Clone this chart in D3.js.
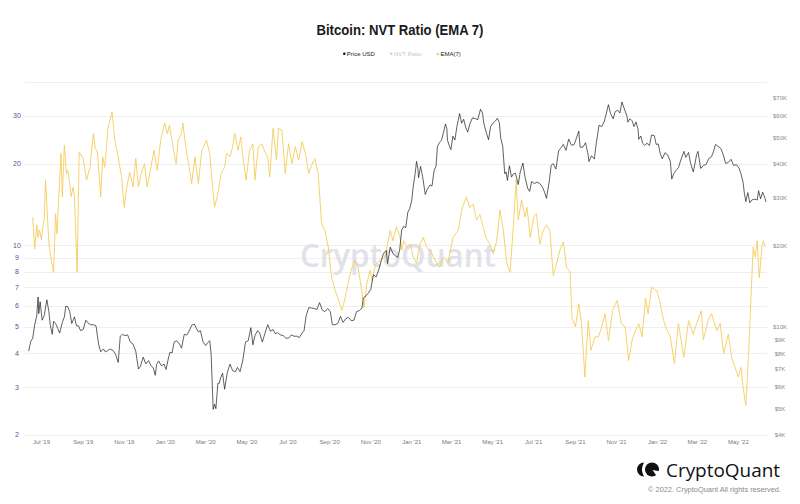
<!DOCTYPE html>
<html><head><meta charset="utf-8">
<script src="https://cdn.jsdelivr.net/npm/d3@7"></script>
<style>html,body{margin:0;padding:0;background:#fff;}svg{display:block;font-family:"Liberation Sans",Arial,sans-serif;}</style>
</head><body>
<svg id="c" width="800" height="504"></svg>
<script>
// ---------- DATA ----------
const titleText = "Bitcoin: NVT Ratio (EMA 7)";
const legendLabels = ["Price USD", "NVT Ratio", "EMA(7)"];
const leftTicks = [2,3,4,5,6,7,8,9,10,20,30,40];
const leftTickLabels = ["2","3","4","5","6","7","8","9","10","20","30",""];
const rightTicks = [4000,5000,6000,7000,8000,9000,10000,20000,30000,40000,50000,60000,70000];
const rightTickLabels = ["$4K","$5K","$6K","$7K","$8K","$9K","$10K","$20K","$30K","$40K","$50K","$60K","$70K"];
const xTickDates = ["2019-07-01","2019-09-01","2019-11-01","2020-01-01","2020-03-01","2020-05-01","2020-07-01","2020-09-01","2020-11-01","2021-01-01","2021-03-01","2021-05-01","2021-07-01","2021-09-01","2021-11-01","2022-01-01","2022-03-01","2022-05-01"];
const xTickLabels = ["Jul '19","Sep '19","Nov '19","Jan '20","Mar '20","May '20","Jul '20","Sep '20","Nov '20","Jan '21","Mar '21","May '21","Jul '21","Sep '21","Nov '21","Jan '22","Mar '22","May '22"];

const priceDates = ["2019-06-12","2019-06-15","2019-06-18","2019-06-21","2019-06-24","2019-06-26","2019-06-27","2019-06-29","2019-07-02","2019-07-05","2019-07-09","2019-07-12","2019-07-14","2019-07-17","2019-07-19","2019-07-22","2019-07-25","2019-07-28","2019-08-01","2019-08-04","2019-08-06","2019-08-09","2019-08-12","2019-08-15","2019-08-19","2019-08-22","2019-08-25","2019-08-28","2019-09-01","2019-09-05","2019-09-09","2019-09-12","2019-09-16","2019-09-20","2019-09-24","2019-09-27","2019-10-01","2019-10-04","2019-10-08","2019-10-11","2019-10-15","2019-10-19","2019-10-23","2019-10-26","2019-10-29","2019-11-02","2019-11-06","2019-11-10","2019-11-14","2019-11-18","2019-11-22","2019-11-25","2019-11-29","2019-12-03","2019-12-07","2019-12-11","2019-12-14","2019-12-17","2019-12-19","2019-12-22","2019-12-26","2019-12-30","2020-01-02","2020-01-06","2020-01-08","2020-01-11","2020-01-14","2020-01-18","2020-01-22","2020-01-25","2020-01-29","2020-02-02","2020-02-06","2020-02-09","2020-02-13","2020-02-16","2020-02-19","2020-02-22","2020-02-26","2020-03-01","2020-03-04","2020-03-07","2020-03-09","2020-03-12","2020-03-14","2020-03-16","2020-03-19","2020-03-21","2020-03-23","2020-03-26","2020-03-29","2020-04-02","2020-04-06","2020-04-10","2020-04-14","2020-04-17","2020-04-21","2020-04-25","2020-04-29","2020-05-03","2020-05-07","2020-05-10","2020-05-13","2020-05-17","2020-05-20","2020-05-24","2020-05-28","2020-06-01","2020-06-05","2020-06-09","2020-06-12","2020-06-16","2020-06-20","2020-06-24","2020-06-28","2020-07-02","2020-07-06","2020-07-10","2020-07-14","2020-07-18","2020-07-22","2020-07-25","2020-07-28","2020-08-01","2020-08-05","2020-08-09","2020-08-13","2020-08-17","2020-08-21","2020-08-25","2020-08-29","2020-09-02","2020-09-05","2020-09-09","2020-09-13","2020-09-17","2020-09-21","2020-09-25","2020-09-29","2020-10-03","2020-10-07","2020-10-11","2020-10-15","2020-10-19","2020-10-21","2020-10-25","2020-10-28","2020-11-01","2020-11-05","2020-11-09","2020-11-13","2020-11-17","2020-11-20","2020-11-24","2020-11-26","2020-11-30","2020-12-04","2020-12-08","2020-12-11","2020-12-14","2020-12-17","2020-12-20","2020-12-23","2020-12-26","2020-12-29","2021-01-01","2021-01-03","2021-01-06","2021-01-08","2021-01-10","2021-01-11","2021-01-14","2021-01-17","2021-01-21","2021-01-24","2021-01-28","2021-01-31","2021-02-03","2021-02-06","2021-02-08","2021-02-11","2021-02-14","2021-02-17","2021-02-20","2021-02-22","2021-02-23","2021-02-26","2021-02-28","2021-03-03","2021-03-06","2021-03-09","2021-03-13","2021-03-16","2021-03-19","2021-03-22","2021-03-25","2021-03-28","2021-04-01","2021-04-05","2021-04-09","2021-04-13","2021-04-16","2021-04-18","2021-04-22","2021-04-25","2021-04-28","2021-05-02","2021-05-05","2021-05-08","2021-05-11","2021-05-13","2021-05-16","2021-05-19","2021-05-21","2021-05-23","2021-05-26","2021-05-29","2021-06-01","2021-06-04","2021-06-08","2021-06-11","2021-06-15","2021-06-18","2021-06-22","2021-06-25","2021-06-28","2021-07-02","2021-07-06","2021-07-10","2021-07-14","2021-07-17","2021-07-20","2021-07-24","2021-07-27","2021-07-30","2021-08-03","2021-08-07","2021-08-10","2021-08-14","2021-08-18","2021-08-22","2021-08-26","2021-08-30","2021-09-02","2021-09-06","2021-09-08","2021-09-12","2021-09-16","2021-09-20","2021-09-21","2021-09-25","2021-09-29","2021-10-02","2021-10-06","2021-10-10","2021-10-14","2021-10-17","2021-10-20","2021-10-23","2021-10-27","2021-10-30","2021-11-03","2021-11-06","2021-11-09","2021-11-12","2021-11-16","2021-11-18","2021-11-21","2021-11-24","2021-11-27","2021-11-30","2021-12-03","2021-12-04","2021-12-07","2021-12-10","2021-12-13","2021-12-16","2021-12-20","2021-12-23","2021-12-27","2021-12-30","2022-01-02","2022-01-05","2022-01-08","2022-01-12","2022-01-16","2022-01-20","2022-01-22","2022-01-25","2022-01-28","2022-02-01","2022-02-05","2022-02-09","2022-02-12","2022-02-16","2022-02-19","2022-02-23","2022-02-24","2022-02-28","2022-03-02","2022-03-06","2022-03-10","2022-03-14","2022-03-18","2022-03-22","2022-03-25","2022-03-28","2022-04-01","2022-04-05","2022-04-09","2022-04-12","2022-04-16","2022-04-20","2022-04-24","2022-04-28","2022-05-02","2022-05-05","2022-05-08","2022-05-10","2022-05-12","2022-05-15","2022-05-18","2022-05-21","2022-05-25","2022-05-29","2022-05-31","2022-06-03","2022-06-06","2022-06-09","2022-06-11"];
const priceValues = [8150,8830,9090,10200,11000,12900,11200,12400,10600,11000,12600,11400,10200,9400,10500,10300,9900,9500,10400,10900,11900,11900,11400,10300,10900,10100,10100,9700,9800,10600,10300,10200,10200,10100,8600,8100,8300,8100,8200,8300,8200,7950,7400,9250,9400,9300,9350,8800,8650,8150,7000,7150,7750,7320,7520,7200,7070,6640,7290,7500,7200,7300,6980,7770,8080,8020,8800,8900,8650,8360,9390,9350,9750,10150,10250,9900,9600,9700,8800,8550,8760,8900,7900,4970,5200,5000,6200,6200,6490,6760,5900,6800,7300,6900,6850,7100,6850,7550,8800,8900,9950,8600,9300,9700,9500,8800,9500,10200,9650,9780,9460,9520,9350,9300,9100,9100,9350,9250,9250,9150,9500,9700,11000,11800,11750,11700,11600,12300,11550,11400,11700,11400,10200,10200,10300,10950,10400,10750,10850,10550,10600,11400,11500,11750,12800,13030,13300,13750,15600,15300,16300,17700,18700,19150,17150,19700,18650,18300,18050,19250,22800,23500,23250,26450,27350,29400,32800,36800,40800,38400,35500,39100,35900,30800,32200,33400,33100,37600,39200,46200,47900,48700,52100,56000,54000,48800,46300,45100,50500,48900,54900,61200,56400,58300,54500,52300,55900,59000,58700,58100,63500,61400,56200,51700,49000,54800,56600,57400,58800,56700,49700,46400,36700,37300,34700,39300,35700,36700,36900,33500,37300,40200,35800,32500,31600,34400,33800,34200,33800,32800,31500,29800,34300,39500,40000,38200,44600,45600,47100,44800,49300,46800,47000,49300,52700,46000,46000,47800,43000,40700,42800,41600,47700,55400,54800,57400,61500,66000,61300,58500,62200,62900,61500,67500,64300,60400,56900,58600,57600,54800,57000,53600,49200,50600,47500,46700,47600,46700,51000,50800,47100,47300,43500,41700,43900,43100,40700,35100,36700,37700,38700,41600,44400,42200,44000,40100,37300,38300,43200,44400,38400,39400,39700,41800,42400,44300,47100,46300,45500,42800,40100,40400,41500,39400,39700,38500,36600,34100,31000,29000,31300,28700,29400,29600,29400,31800,29700,31400,30100,28900];

const emaDates = ["2019-06-18","2019-06-21","2019-06-24","2019-06-26","2019-06-28","2019-07-01","2019-07-03","2019-07-05","2019-07-07","2019-07-12","2019-07-15","2019-07-19","2019-07-22","2019-07-24","2019-07-30","2019-08-01","2019-08-04","2019-08-07","2019-08-09","2019-08-12","2019-08-14","2019-08-17","2019-08-19","2019-08-23","2019-08-26","2019-09-01","2019-09-06","2019-09-11","2019-09-16","2019-09-19","2019-09-22","2019-09-27","2019-09-30","2019-10-03","2019-10-08","2019-10-14","2019-10-18","2019-10-23","2019-10-28","2019-11-01","2019-11-04","2019-11-09","2019-11-14","2019-11-18","2019-11-22","2019-11-26","2019-12-01","2019-12-05","2019-12-08","2019-12-15","2019-12-20","2019-12-25","2019-12-31","2020-01-04","2020-01-07","2020-01-12","2020-01-17","2020-01-20","2020-01-25","2020-01-27","2020-02-01","2020-02-06","2020-02-09","2020-02-14","2020-02-19","2020-02-24","2020-03-02","2020-03-07","2020-03-09","2020-03-14","2020-03-18","2020-03-24","2020-03-29","2020-04-01","2020-04-06","2020-04-10","2020-04-13","2020-04-18","2020-04-22","2020-04-25","2020-04-30","2020-05-05","2020-05-10","2020-05-13","2020-05-18","2020-05-23","2020-05-28","2020-06-01","2020-06-04","2020-06-09","2020-06-14","2020-06-17","2020-06-22","2020-06-27","2020-07-02","2020-07-07","2020-07-12","2020-07-17","2020-07-22","2020-07-27","2020-08-01","2020-08-05","2020-08-10","2020-08-15","2020-08-20","2020-08-25","2020-08-30","2020-09-04","2020-09-09","2020-09-16","2020-09-19","2020-09-24","2020-09-29","2020-10-03","2020-10-08","2020-10-13","2020-10-18","2020-10-22","2020-10-26","2020-10-31","2020-11-03","2020-11-08","2020-11-15","2020-11-22","2020-11-30","2020-12-04","2020-12-09","2020-12-14","2020-12-17","2020-12-20","2020-12-25","2020-12-30","2021-01-03","2021-01-08","2021-01-13","2021-01-18","2021-01-23","2021-01-28","2021-02-05","2021-02-11","2021-02-17","2021-02-24","2021-03-03","2021-03-11","2021-03-16","2021-03-23","2021-03-28","2021-04-02","2021-04-07","2021-04-12","2021-04-17","2021-04-21","2021-04-27","2021-05-02","2021-05-07","2021-05-12","2021-05-17","2021-05-22","2021-05-27","2021-06-01","2021-06-05","2021-06-08","2021-06-13","2021-06-18","2021-06-21","2021-06-26","2021-07-01","2021-07-05","2021-07-10","2021-07-15","2021-07-20","2021-07-25","2021-07-30","2021-08-04","2021-08-09","2021-08-14","2021-08-19","2021-08-24","2021-08-27","2021-09-01","2021-09-06","2021-09-10","2021-09-15","2021-09-20","2021-09-24","2021-09-30","2021-10-05","2021-10-10","2021-10-15","2021-10-20","2021-10-26","2021-11-02","2021-11-08","2021-11-14","2021-11-19","2021-11-24","2021-11-29","2021-12-04","2021-12-09","2021-12-14","2021-12-18","2021-12-23","2021-12-31","2022-01-05","2022-01-10","2022-01-15","2022-01-20","2022-01-26","2022-02-01","2022-02-09","2022-02-16","2022-02-23","2022-02-28","2022-03-07","2022-03-10","2022-03-17","2022-03-22","2022-03-30","2022-04-04","2022-04-09","2022-04-16","2022-04-21","2022-04-26","2022-05-01","2022-05-05","2022-05-08","2022-05-12","2022-05-16","2022-05-21","2022-05-23","2022-05-26","2022-05-29","2022-06-01","2022-06-05","2022-06-07","2022-06-10"];
const emaValues = [12.7,9.7,11.9,10.7,11.4,10.5,11.6,12.5,17.4,10.2,9.0,7.95,13.1,11.0,21.8,15.1,23.4,18.4,18.9,16.9,15.1,16.4,15.1,7.95,22.1,20.9,17.4,19.4,25.8,22.7,22.1,15.1,21.2,19.4,27.3,31.0,24.4,21.0,17.9,13.8,16.0,18.6,16.4,20.9,16.4,18.4,20.0,16.4,17.9,22.4,18.9,24.4,28.2,25.8,27.7,23.4,20.0,24.4,25.8,28.2,22.4,18.9,16.9,21.2,16.9,22.4,24.4,21.8,18.9,13.8,15.1,18.4,19.4,21.8,21.2,23.1,25.8,22.4,25.1,21.2,17.4,22.4,23.7,17.4,23.1,23.7,22.1,21.2,17.9,27.0,20.6,27.0,26.6,18.4,23.7,20.0,23.1,20.6,24.1,21.8,18.4,19.7,20.9,18.4,12.0,11.35,9.85,7.6,6.85,6.1,5.75,6.4,7.4,8.1,8.8,8.3,7.0,5.9,7.2,8.1,7.4,8.5,8.8,9.05,11.35,10.4,11.7,10.9,9.6,10.4,9.85,10.1,9.05,8.6,10.1,10.7,9.85,9.6,8.8,8.3,9.05,8.6,10.7,11.35,13.5,15.1,13.8,14.2,12.4,13.0,11.7,10.7,10.1,9.3,10.4,13.5,11.35,8.6,7.95,12.0,17.4,12.4,14.7,12.7,13.8,10.7,12.7,13.1,10.1,11.35,11.9,11.35,7.75,8.6,9.6,10.3,8.3,8.0,5.4,5.0,6.1,5.15,3.27,5.28,4.1,4.6,4.6,5.0,5.6,4.46,5.75,6.27,5.15,5.0,3.76,4.46,4.85,5.15,4.6,6.4,5.6,7.0,6.8,6.1,5.28,4.85,4.6,3.66,5.15,3.87,5.28,4.7,5.15,5.75,4.5,5.28,5.6,4.85,5.15,4.0,4.7,3.87,3.55,3.27,3.55,3.0,2.57,3.9,7.6,9.85,9.05,10.4,7.6,9.85,10.4,9.85];

// ---------- DRAW ----------
const svg = d3.select("#c");
const parse = d3.utcParse("%Y-%m-%d");
const plot = {left: 28, right: 766, top: 82, bottom: 435};

const x = d3.scaleUtc().domain([parse("2019-06-11"), parse("2022-06-11")]).range([plot.left, plot.right]);
const yL = d3.scaleLog().domain([2, 40]).range([plot.bottom, plot.top]);
const yR = d3.scaleLog().domain([4000, 80000]).range([plot.bottom, plot.top]);

svg.append("rect").attr("width", 800).attr("height", 504).attr("fill", "#fff");

// gridlines (left axis)
svg.append("g").selectAll("line").data(leftTicks).join("line")
  .attr("x1", 25).attr("x2", 767)
  .attr("y1", d => Math.round(yL(d)) + 0.5).attr("y2", d => Math.round(yL(d)) + 0.5)
  .attr("stroke", "#ebebeb").attr("stroke-width", 0.8);

// left axis labels
svg.append("g").selectAll("text").data(leftTicks).join("text")
  .attr("x", 17).attr("y", d => yL(d) + 2.4)
  .attr("text-anchor", "middle").attr("font-size", 7).attr("fill", "#56568c")
  .text((d, i) => leftTickLabels[i]);

// right axis labels
svg.append("g").selectAll("text").data(rightTicks).join("text")
  .attr("x", 780).attr("y", d => yR(d) + 2.2)
  .attr("text-anchor", "middle").attr("font-size", 6).attr("fill", "#8a8a8a")
  .text((d, i) => rightTickLabels[i]);

// x axis labels
svg.append("g").selectAll("text").data(xTickDates).join("text")
  .attr("x", d => x(parse(d))).attr("y", 444)
  .attr("text-anchor", "middle").attr("font-size", 6).attr("fill", "#7a7a7a")
  .text((d, i) => xTickLabels[i]);

// watermark
svg.append("text").attr("x", 398).attr("y", 267).attr("text-anchor", "middle")
  .attr("font-family", "'Open Sans', sans-serif").attr("font-weight", 600)
  .attr("font-size", 33).attr("fill", "#dcdde6").attr("opacity", 0.85)
  .attr("textLength", 196).attr("lengthAdjust", "spacingAndGlyphs")
  .text("CryptoQuant");

// lines
const emaData = emaDates.map((d, i) => ({date: parse(d), v: emaValues[i]}));
const priceData = priceDates.map((d, i) => ({date: parse(d), v: priceValues[i]}));

svg.append("path").datum(emaData)
  .attr("fill", "none").attr("stroke", "#f4cd5c").attr("stroke-width", 0.9).attr("stroke-linejoin", "round")
  .attr("d", d3.line().x(d => x(d.date)).y(d => yL(d.v)));

svg.append("path").datum(priceData)
  .attr("fill", "none").attr("stroke", "#1c1c1c").attr("stroke-width", 0.7).attr("stroke-linejoin", "round")
  .attr("d", d3.line().x(d => x(d.date)).y(d => yR(d.v)));

// title
svg.append("text").attr("x", 400).attr("y", 35).attr("text-anchor", "middle")
  .attr("font-weight", "bold").attr("font-size", 14).attr("fill", "#1a1a1a")
  .attr("textLength", 167).attr("lengthAdjust", "spacingAndGlyphs")
  .text(titleText);

// legend
const lg = svg.append("g").attr("font-size", 6);
lg.append("circle").attr("cx", 344.3).attr("cy", 53.8).attr("r", 1.3).attr("fill", "#111");
lg.append("text").attr("x", 346.8).attr("y", 56).attr("fill", "#222").text(legendLabels[0]);
lg.append("circle").attr("cx", 391.2).attr("cy", 53.8).attr("r", 1.3).attr("fill", "#cfcfcf");
lg.append("text").attr("x", 394).attr("y", 56).attr("fill", "#c8c8c8").text(legendLabels[1]);
lg.append("path").attr("d", "M437.7,52.2 L439.3,55 L436.1,55 Z").attr("fill", "#f2c84b");
lg.append("text").attr("x", 440.5).attr("y", 56).attr("fill", "#222").text(legendLabels[2]);

// logo
const logo = svg.append("g").attr("fill", "#111");
logo.append("path").attr("d", "M644,462.5 A7,7 0 0,0 644,476.5 A14,14 0 0,1 644,462.5 Z");
logo.append("circle").attr("cx", 652).attr("cy", 469.5).attr("r", 7);
logo.append("path").attr("d", "M652.5,470 L659.5,471.2 L657,476.5 Z").attr("fill", "#fff");
logo.append("text").attr("x", 666).attr("y", 477).attr("font-family", "'Open Sans', sans-serif")
  .attr("font-weight", 500).attr("font-size", 19)
  .attr("textLength", 114).attr("lengthAdjust", "spacingAndGlyphs").text("CryptoQuant");
svg.append("text").attr("x", 781).attr("y", 491.5).attr("text-anchor", "end")
  .attr("font-size", 7.5).attr("fill", "#8a8a8a")
  .attr("textLength", 133).attr("lengthAdjust", "spacingAndGlyphs")
  .text("© 2022. CryptoQuant All rights reserved.");
</script>
</body></html>
